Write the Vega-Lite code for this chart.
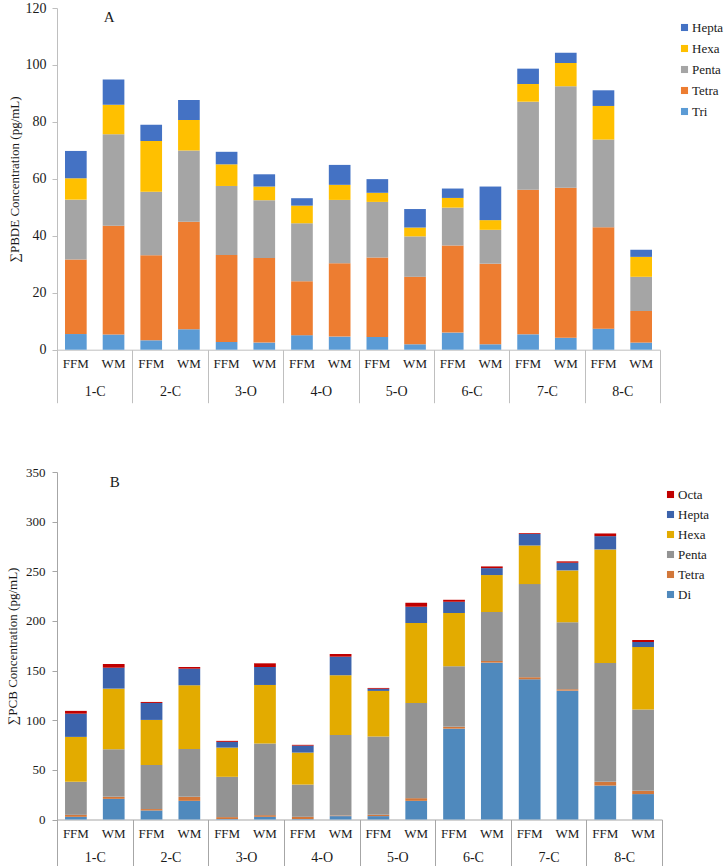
{
  "$schema": "https://vega.github.io/schema/vega-lite/v6.json",
  "padding": {"top": 1, "left": 6, "right": 0, "bottom": 0},
  "background": "white",
  "config": {
    "font": "Liberation Serif",
    "view": {"stroke": null},
    "axis": {"labelFont": "Liberation Serif", "titleFont": "Liberation Serif", "labelFontSize": 13, "titleFontSize": 13, "labelColor": "#1a1a1a", "titleColor": "#1a1a1a", "titleFontWeight": "normal", "grid": false},
    "legend": {"labelFont": "Liberation Serif", "labelFontSize": 13, "labelColor": "#1a1a1a", "symbolType": "square", "symbolSize": 50, "symbolStrokeWidth": 0, "rowPadding": 7, "padding": 0, "labelOffset": 1, "title": null}
  },
  "datasets": {
    "pbde": [
      {"x":"1-C FFM","s":"1-C","g":"Tri","n":3,"v":5.5},{"x":"1-C FFM","s":"1-C","g":"Tetra","n":4,"v":26.2},{"x":"1-C FFM","s":"1-C","g":"Penta","n":5,"v":21.0},{"x":"1-C FFM","s":"1-C","g":"Hexa","n":6,"v":7.5},{"x":"1-C FFM","s":"1-C","g":"Hepta","n":7,"v":9.6},
      {"x":"1-C WM","s":"1-C","g":"Tri","n":3,"v":5.3},{"x":"1-C WM","s":"1-C","g":"Tetra","n":4,"v":38.2},{"x":"1-C WM","s":"1-C","g":"Penta","n":5,"v":32.2},{"x":"1-C WM","s":"1-C","g":"Hexa","n":6,"v":10.3},{"x":"1-C WM","s":"1-C","g":"Hepta","n":7,"v":8.9},
      {"x":"2-C FFM","s":"2-C","g":"Tri","n":3,"v":3.3},{"x":"2-C FFM","s":"2-C","g":"Tetra","n":4,"v":29.9},{"x":"2-C FFM","s":"2-C","g":"Penta","n":5,"v":22.3},{"x":"2-C FFM","s":"2-C","g":"Hexa","n":6,"v":17.8},{"x":"2-C FFM","s":"2-C","g":"Hepta","n":7,"v":5.7},
      {"x":"2-C WM","s":"2-C","g":"Tri","n":3,"v":7.2},{"x":"2-C WM","s":"2-C","g":"Tetra","n":4,"v":37.7},{"x":"2-C WM","s":"2-C","g":"Penta","n":5,"v":25.1},{"x":"2-C WM","s":"2-C","g":"Hexa","n":6,"v":10.7},{"x":"2-C WM","s":"2-C","g":"Hepta","n":7,"v":7.0},
      {"x":"3-O FFM","s":"3-O","g":"Tri","n":3,"v":2.7},{"x":"3-O FFM","s":"3-O","g":"Tetra","n":4,"v":30.6},{"x":"3-O FFM","s":"3-O","g":"Penta","n":5,"v":24.2},{"x":"3-O FFM","s":"3-O","g":"Hexa","n":6,"v":7.6},{"x":"3-O FFM","s":"3-O","g":"Hepta","n":7,"v":4.4},
      {"x":"3-O WM","s":"3-O","g":"Tri","n":3,"v":2.5},{"x":"3-O WM","s":"3-O","g":"Tetra","n":4,"v":29.7},{"x":"3-O WM","s":"3-O","g":"Penta","n":5,"v":20.3},{"x":"3-O WM","s":"3-O","g":"Hexa","n":6,"v":4.8},{"x":"3-O WM","s":"3-O","g":"Hepta","n":7,"v":4.3},
      {"x":"4-O FFM","s":"4-O","g":"Tri","n":3,"v":5.1},{"x":"4-O FFM","s":"4-O","g":"Tetra","n":4,"v":18.9},{"x":"4-O FFM","s":"4-O","g":"Penta","n":5,"v":20.4},{"x":"4-O FFM","s":"4-O","g":"Hexa","n":6,"v":6.2},{"x":"4-O FFM","s":"4-O","g":"Hepta","n":7,"v":2.6},
      {"x":"4-O WM","s":"4-O","g":"Tri","n":3,"v":4.6},{"x":"4-O WM","s":"4-O","g":"Tetra","n":4,"v":25.8},{"x":"4-O WM","s":"4-O","g":"Penta","n":5,"v":22.2},{"x":"4-O WM","s":"4-O","g":"Hexa","n":6,"v":5.3},{"x":"4-O WM","s":"4-O","g":"Hepta","n":7,"v":7.0},
      {"x":"5-O FFM","s":"5-O","g":"Tri","n":3,"v":4.5},{"x":"5-O FFM","s":"5-O","g":"Tetra","n":4,"v":27.9},{"x":"5-O FFM","s":"5-O","g":"Penta","n":5,"v":19.5},{"x":"5-O FFM","s":"5-O","g":"Hexa","n":6,"v":3.2},{"x":"5-O FFM","s":"5-O","g":"Hepta","n":7,"v":4.8},
      {"x":"5-O WM","s":"5-O","g":"Tri","n":3,"v":1.9},{"x":"5-O WM","s":"5-O","g":"Tetra","n":4,"v":23.7},{"x":"5-O WM","s":"5-O","g":"Penta","n":5,"v":14.2},{"x":"5-O WM","s":"5-O","g":"Hexa","n":6,"v":3.1},{"x":"5-O WM","s":"5-O","g":"Hepta","n":7,"v":6.5},
      {"x":"6-C FFM","s":"6-C","g":"Tri","n":3,"v":6.0},{"x":"6-C FFM","s":"6-C","g":"Tetra","n":4,"v":30.6},{"x":"6-C FFM","s":"6-C","g":"Penta","n":5,"v":13.3},{"x":"6-C FFM","s":"6-C","g":"Hexa","n":6,"v":3.4},{"x":"6-C FFM","s":"6-C","g":"Hepta","n":7,"v":3.3},
      {"x":"6-C WM","s":"6-C","g":"Tri","n":3,"v":1.9},{"x":"6-C WM","s":"6-C","g":"Tetra","n":4,"v":28.3},{"x":"6-C WM","s":"6-C","g":"Penta","n":5,"v":11.9},{"x":"6-C WM","s":"6-C","g":"Hexa","n":6,"v":3.4},{"x":"6-C WM","s":"6-C","g":"Hepta","n":7,"v":11.8},
      {"x":"7-C FFM","s":"7-C","g":"Tri","n":3,"v":5.4},{"x":"7-C FFM","s":"7-C","g":"Tetra","n":4,"v":50.8},{"x":"7-C FFM","s":"7-C","g":"Penta","n":5,"v":30.9},{"x":"7-C FFM","s":"7-C","g":"Hexa","n":6,"v":6.2},{"x":"7-C FFM","s":"7-C","g":"Hepta","n":7,"v":5.4},
      {"x":"7-C WM","s":"7-C","g":"Tri","n":3,"v":4.2},{"x":"7-C WM","s":"7-C","g":"Tetra","n":4,"v":52.7},{"x":"7-C WM","s":"7-C","g":"Penta","n":5,"v":35.6},{"x":"7-C WM","s":"7-C","g":"Hexa","n":6,"v":8.2},{"x":"7-C WM","s":"7-C","g":"Hepta","n":7,"v":3.6},
      {"x":"8-C FFM","s":"8-C","g":"Tri","n":3,"v":7.4},{"x":"8-C FFM","s":"8-C","g":"Tetra","n":4,"v":35.6},{"x":"8-C FFM","s":"8-C","g":"Penta","n":5,"v":30.8},{"x":"8-C FFM","s":"8-C","g":"Hexa","n":6,"v":11.8},{"x":"8-C FFM","s":"8-C","g":"Hepta","n":7,"v":5.5},
      {"x":"8-C WM","s":"8-C","g":"Tri","n":3,"v":2.5},{"x":"8-C WM","s":"8-C","g":"Tetra","n":4,"v":11.1},{"x":"8-C WM","s":"8-C","g":"Penta","n":5,"v":12.0},{"x":"8-C WM","s":"8-C","g":"Hexa","n":6,"v":7.0},{"x":"8-C WM","s":"8-C","g":"Hepta","n":7,"v":2.5}
    ],
    "pcb": [
      {"x":"1-C FFM","s":"1-C","g":"Di","n":2,"v":2.7},{"x":"1-C FFM","s":"1-C","g":"Tetra","n":4,"v":2.0},{"x":"1-C FFM","s":"1-C","g":"Penta","n":5,"v":33.2},{"x":"1-C FFM","s":"1-C","g":"Hexa","n":6,"v":45.3},{"x":"1-C FFM","s":"1-C","g":"Hepta","n":7,"v":23.4},{"x":"1-C FFM","s":"1-C","g":"Octa","n":8,"v":2.8},
      {"x":"1-C WM","s":"1-C","g":"Di","n":2,"v":20.8},{"x":"1-C WM","s":"1-C","g":"Tetra","n":4,"v":2.0},{"x":"1-C WM","s":"1-C","g":"Penta","n":5,"v":48.0},{"x":"1-C WM","s":"1-C","g":"Hexa","n":6,"v":61.0},{"x":"1-C WM","s":"1-C","g":"Hepta","n":7,"v":21.1},{"x":"1-C WM","s":"1-C","g":"Octa","n":8,"v":3.7},
      {"x":"2-C FFM","s":"2-C","g":"Di","n":2,"v":9.1},{"x":"2-C FFM","s":"2-C","g":"Tetra","n":4,"v":1.4},{"x":"2-C FFM","s":"2-C","g":"Penta","n":5,"v":44.5},{"x":"2-C FFM","s":"2-C","g":"Hexa","n":6,"v":45.3},{"x":"2-C FFM","s":"2-C","g":"Hepta","n":7,"v":17.1},{"x":"2-C FFM","s":"2-C","g":"Octa","n":8,"v":1.0},
      {"x":"2-C WM","s":"2-C","g":"Di","n":2,"v":18.8},{"x":"2-C WM","s":"2-C","g":"Tetra","n":4,"v":4.0},{"x":"2-C WM","s":"2-C","g":"Penta","n":5,"v":48.3},{"x":"2-C WM","s":"2-C","g":"Hexa","n":6,"v":64.1},{"x":"2-C WM","s":"2-C","g":"Hepta","n":7,"v":16.7},{"x":"2-C WM","s":"2-C","g":"Octa","n":8,"v":1.7},
      {"x":"3-O FFM","s":"3-O","g":"Di","n":2,"v":0.5},{"x":"3-O FFM","s":"3-O","g":"Tetra","n":4,"v":1.9},{"x":"3-O FFM","s":"3-O","g":"Penta","n":5,"v":40.6},{"x":"3-O FFM","s":"3-O","g":"Hexa","n":6,"v":29.4},{"x":"3-O FFM","s":"3-O","g":"Hepta","n":7,"v":5.8},{"x":"3-O FFM","s":"3-O","g":"Octa","n":8,"v":1.0},
      {"x":"3-O WM","s":"3-O","g":"Di","n":2,"v":2.7},{"x":"3-O WM","s":"3-O","g":"Tetra","n":4,"v":1.7},{"x":"3-O WM","s":"3-O","g":"Penta","n":5,"v":72.1},{"x":"3-O WM","s":"3-O","g":"Hexa","n":6,"v":59.0},{"x":"3-O WM","s":"3-O","g":"Hepta","n":7,"v":18.1},{"x":"3-O WM","s":"3-O","g":"Octa","n":8,"v":3.7},
      {"x":"4-O FFM","s":"4-O","g":"Di","n":2,"v":0.5},{"x":"4-O FFM","s":"4-O","g":"Tetra","n":4,"v":2.2},{"x":"4-O FFM","s":"4-O","g":"Penta","n":5,"v":32.5},{"x":"4-O FFM","s":"4-O","g":"Hexa","n":6,"v":32.2},{"x":"4-O FFM","s":"4-O","g":"Hepta","n":7,"v":7.0},{"x":"4-O FFM","s":"4-O","g":"Octa","n":8,"v":0.8},
      {"x":"4-O WM","s":"4-O","g":"Di","n":2,"v":3.4},{"x":"4-O WM","s":"4-O","g":"Tetra","n":4,"v":0.6},{"x":"4-O WM","s":"4-O","g":"Penta","n":5,"v":81.2},{"x":"4-O WM","s":"4-O","g":"Hexa","n":6,"v":60.1},{"x":"4-O WM","s":"4-O","g":"Hepta","n":7,"v":18.7},{"x":"4-O WM","s":"4-O","g":"Octa","n":8,"v":2.7},
      {"x":"5-O FFM","s":"5-O","g":"Di","n":2,"v":3.4},{"x":"5-O FFM","s":"5-O","g":"Tetra","n":4,"v":1.3},{"x":"5-O FFM","s":"5-O","g":"Penta","n":5,"v":78.8},{"x":"5-O FFM","s":"5-O","g":"Hexa","n":6,"v":46.0},{"x":"5-O FFM","s":"5-O","g":"Hepta","n":7,"v":2.2},{"x":"5-O FFM","s":"5-O","g":"Octa","n":8,"v":0.8},
      {"x":"5-O WM","s":"5-O","g":"Di","n":2,"v":18.8},{"x":"5-O WM","s":"5-O","g":"Tetra","n":4,"v":2.7},{"x":"5-O WM","s":"5-O","g":"Penta","n":5,"v":95.9},{"x":"5-O WM","s":"5-O","g":"Hexa","n":6,"v":80.5},{"x":"5-O WM","s":"5-O","g":"Hepta","n":7,"v":16.4},{"x":"5-O WM","s":"5-O","g":"Octa","n":8,"v":4.0},
      {"x":"6-C FFM","s":"6-C","g":"Di","n":2,"v":91.5},{"x":"6-C FFM","s":"6-C","g":"Tetra","n":4,"v":1.8},{"x":"6-C FFM","s":"6-C","g":"Penta","n":5,"v":61.0},{"x":"6-C FFM","s":"6-C","g":"Hexa","n":6,"v":53.7},{"x":"6-C FFM","s":"6-C","g":"Hepta","n":7,"v":11.3},{"x":"6-C FFM","s":"6-C","g":"Octa","n":8,"v":2.0},
      {"x":"6-C WM","s":"6-C","g":"Di","n":2,"v":158.0},{"x":"6-C WM","s":"6-C","g":"Tetra","n":4,"v":1.7},{"x":"6-C WM","s":"6-C","g":"Penta","n":5,"v":49.3},{"x":"6-C WM","s":"6-C","g":"Hexa","n":6,"v":37.2},{"x":"6-C WM","s":"6-C","g":"Hepta","n":7,"v":7.0},{"x":"6-C WM","s":"6-C","g":"Octa","n":8,"v":1.7},
      {"x":"7-C FFM","s":"7-C","g":"Di","n":2,"v":141.2},{"x":"7-C FFM","s":"7-C","g":"Tetra","n":4,"v":2.1},{"x":"7-C FFM","s":"7-C","g":"Penta","n":5,"v":93.8},{"x":"7-C FFM","s":"7-C","g":"Hexa","n":6,"v":38.9},{"x":"7-C FFM","s":"7-C","g":"Hepta","n":7,"v":11.6},{"x":"7-C FFM","s":"7-C","g":"Octa","n":8,"v":0.8},
      {"x":"7-C WM","s":"7-C","g":"Di","n":2,"v":129.8},{"x":"7-C WM","s":"7-C","g":"Tetra","n":4,"v":1.4},{"x":"7-C WM","s":"7-C","g":"Penta","n":5,"v":67.4},{"x":"7-C WM","s":"7-C","g":"Hexa","n":6,"v":52.3},{"x":"7-C WM","s":"7-C","g":"Hepta","n":7,"v":7.7},{"x":"7-C WM","s":"7-C","g":"Octa","n":8,"v":1.4},
      {"x":"8-C FFM","s":"8-C","g":"Di","n":2,"v":34.2},{"x":"8-C FFM","s":"8-C","g":"Tetra","n":4,"v":3.7},{"x":"8-C FFM","s":"8-C","g":"Penta","n":5,"v":119.7},{"x":"8-C FFM","s":"8-C","g":"Hexa","n":6,"v":114.4},{"x":"8-C FFM","s":"8-C","g":"Hepta","n":7,"v":13.4},{"x":"8-C FFM","s":"8-C","g":"Octa","n":8,"v":2.7},
      {"x":"8-C WM","s":"8-C","g":"Di","n":2,"v":25.6},{"x":"8-C WM","s":"8-C","g":"Tetra","n":4,"v":3.3},{"x":"8-C WM","s":"8-C","g":"Penta","n":5,"v":81.8},{"x":"8-C WM","s":"8-C","g":"Hexa","n":6,"v":63.0},{"x":"8-C WM","s":"8-C","g":"Hepta","n":7,"v":5.1},{"x":"8-C WM","s":"8-C","g":"Octa","n":8,"v":2.0}
    ]
  },
  "spacing": 62,
  "resolve": {"scale": {"color": "independent", "x": "independent", "y": "independent"}, "legend": {"color": "independent"}},
  "vconcat": [
    {
      "width": 603,
      "height": 341.7,
      "resolve": {"scale": {"x": "independent"}, "axis": {"x": "independent"}},
      "layer": [
        {
          "layer": [
            {
              "data": {"name": "pbde"},
              "mark": {"type": "bar"},
              "encoding": {
                "x": {"field": "x", "type": "nominal", "sort": null, "scale": {"paddingInner": 0.425, "paddingOuter": 0.2125},
                      "axis": {"title": null, "labelExpr": "split(datum.label, ' ')[1]", "labelAngle": 0, "ticks": false, "labelPadding": 8, "domainColor": "#BFBFBF"}},
                "y": {"field": "v", "type": "quantitative", "stack": "zero", "scale": {"domain": [0, 120], "nice": false},
                      "axis": {"values": [0, 20, 40, 60, 80, 100, 120], "title": "∑PBDE Concentration (pg/mL)", "labelFontSize": 14, "tickSize": 5, "tickColor": "#BFBFBF", "domainColor": "#BFBFBF", "labelPadding": 6, "titlePadding": 4}},
                "color": {"field": "g", "type": "nominal", "scale": {"domain": ["Hepta", "Hexa", "Penta", "Tetra", "Tri"], "range": ["#4472C4", "#FFC000", "#A5A5A5", "#ED7D31", "#5B9BD5"]},
                          "legend": {"orient": "none", "legendX": 621, "legendY": 13}},
                "order": {"field": "n", "type": "quantitative", "sort": "ascending"}
              }
            },
            {
              "data": {"values": [{"label": "A"}]},
              "mark": {"type": "text", "fontSize": 15, "baseline": "middle", "align": "center", "color": "#1a1a1a"},
              "encoding": {
                "x": {"datum": "1-C WM", "type": "nominal", "bandPosition": 0.3},
                "y": {"datum": 117, "type": "quantitative"},
                "text": {"field": "label"}
              }
            }
          ]
        },
        {
          "data": {"name": "pbde"},
          "mark": {"type": "rect", "opacity": 0},
          "encoding": {
            "x": {"field": "s", "type": "nominal", "sort": null, "scale": {"paddingInner": 0, "paddingOuter": 0},
                  "axis": {"orient": "bottom", "title": null, "domain": false, "tickBand": "extent", "tickSize": 53, "tickColor": "#BFBFBF", "labelAngle": 0, "labelFontSize": 14, "labelPadding": -18}}
          }
        }
      ]
    },
    {
      "width": 605,
      "height": 347.5,
      "resolve": {"scale": {"x": "independent"}, "axis": {"x": "independent"}},
      "layer": [
        {
          "layer": [
            {
              "data": {"name": "pcb"},
              "mark": {"type": "bar"},
              "encoding": {
                "x": {"field": "x", "type": "nominal", "sort": null, "scale": {"paddingInner": 0.425, "paddingOuter": 0.2125},
                      "axis": {"title": null, "labelExpr": "split(datum.label, ' ')[1]", "labelAngle": 0, "ticks": false, "labelPadding": 8, "domainColor": "#A6A6A6"}},
                "y": {"field": "v", "type": "quantitative", "stack": "zero", "scale": {"domain": [0, 350], "nice": false},
                      "axis": {"values": [0, 50, 100, 150, 200, 250, 300, 350], "title": "∑PCB Concentration (pg/mL)", "tickSize": 5, "tickColor": "#A6A6A6", "domainColor": "#A6A6A6", "labelPadding": 7, "titlePadding": 6}},
                "color": {"field": "g", "type": "nominal", "scale": {"domain": ["Octa", "Hepta", "Hexa", "Penta", "Tetra", "Di"], "range": ["#C00000", "#3C63AC", "#E3AB00", "#939393", "#D2773A", "#4F89BD"]},
                          "legend": {"orient": "none", "legendX": 607, "legendY": 16, "rowPadding": 6}},
                "order": {"field": "n", "type": "quantitative", "sort": "ascending"}
              }
            },
            {
              "data": {"values": [{"label": "B"}]},
              "mark": {"type": "text", "fontSize": 15, "baseline": "middle", "align": "center", "color": "#1a1a1a"},
              "encoding": {
                "x": {"datum": "1-C WM", "type": "nominal", "bandPosition": 0.55},
                "y": {"datum": 340, "type": "quantitative"},
                "text": {"field": "label"}
              }
            }
          ]
        },
        {
          "data": {"name": "pcb"},
          "mark": {"type": "rect", "opacity": 0},
          "encoding": {
            "x": {"field": "s", "type": "nominal", "sort": null, "scale": {"paddingInner": 0, "paddingOuter": 0},
                  "axis": {"orient": "bottom", "title": null, "domain": false, "tickBand": "extent", "tickSize": 46, "tickColor": "#A6A6A6", "labelAngle": 0, "labelFontSize": 14, "labelPadding": -15}}
          }
        }
      ]
    }
  ]
}
